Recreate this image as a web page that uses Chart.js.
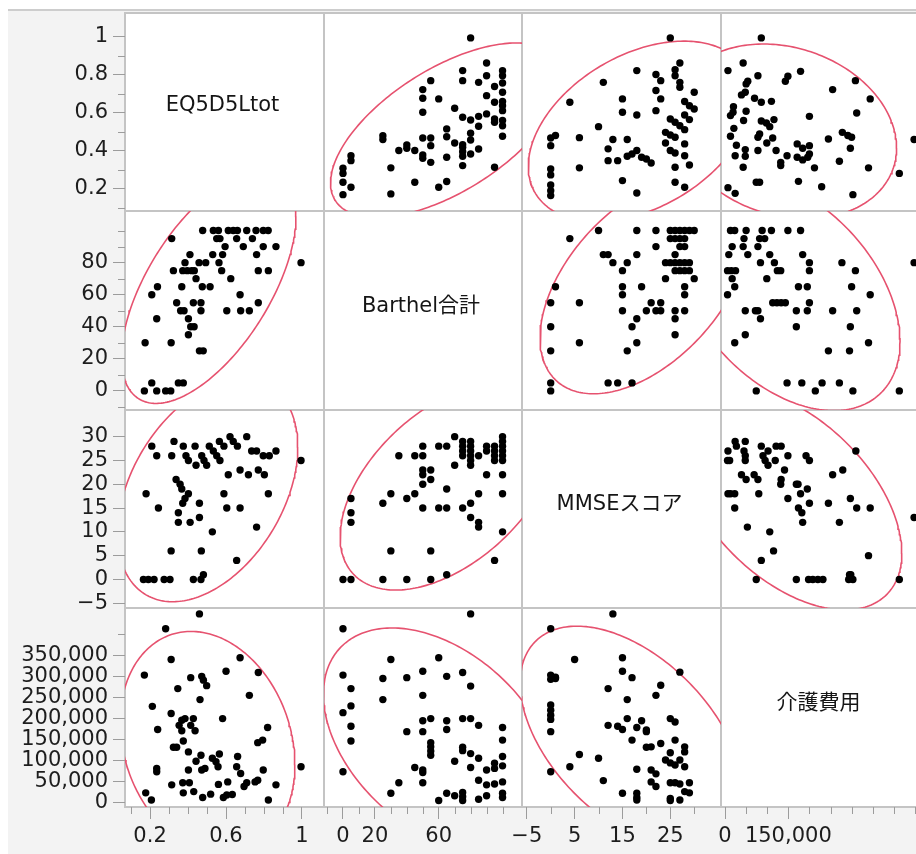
<!DOCTYPE html>
<html>
<head>
<meta charset="utf-8">
<script src="https://cdn.jsdelivr.net/npm/chart.js@4.4.1/dist/chart.umd.min.js"></script>
<style>
  body { margin: 0; width: 916px; height: 854px; overflow: hidden; background: #fff; position: relative; }
  #frame { position: absolute; left: 8px; top: 9px; width: 940px; height: 860px; background: #f3f3f3; border-top: 2px solid #cdcdcd; }
  .line { position: absolute; background: #c4c4c4; }
  .cell { position: absolute; background: #fff; }
  canvas { position: absolute; }
  .diag { position: absolute; font-family: "DejaVu Sans", "Noto Sans CJK JP", sans-serif; font-size: 21px; color: #151515; white-space: nowrap; transform: translate(-50%, -50%); }
</style>
</head>
<body>
<div id="frame"></div>
<div id="root"></div>
<script>
// 変数名（対角セル）
const varNames = ['EQ5D5Ltot', 'Barthel合計', 'MMSEスコア', '介護費用'];

// 軸の目盛り
const eqTicks = [0.1, 0.2, 0.3, 0.4, 0.5, 0.6, 0.7, 0.8, 0.9, 1.0];
const eqLabelsY = [0.2, 0.4, 0.6, 0.8, 1.0];
const eqLabelsX = [0.2, 0.6, 1.0];
const barthelTicks = [-10, 0, 10, 20, 30, 40, 50, 60, 70, 80, 90, 100];
const barthelLabelsY = [0, 20, 40, 60, 80];
const barthelLabelsX = [0, 20, 60];
const mmseTicks = [-5, 0, 5, 10, 15, 20, 25, 30];
const mmseLabelsY = [-5, 0, 5, 10, 15, 20, 25, 30];
const mmseLabelsX = [-5, 5, 15, 25];
const costTicksY = [0, 50000, 100000, 150000, 200000, 250000, 300000, 350000, 400000];
const costLabelsY = [0, 50000, 100000, 150000, 200000, 250000, 300000, 350000];
const costTicksX = [0, 50000, 100000, 150000, 200000, 250000, 300000, 350000, 400000, 450000];
const costLabelsX = [0, 150000];

// 軸の範囲
const eqRangeX = [0.068, 1.116], eqRangeY = [0.084, 1.126];
const barthelRange = [-11.9, 112.2];
const mmseRange = [-6, 35.6];
const costRange = [-9500, 462000];

// 各ペアの観測値 [x変数, y変数]
const eqBarthel = [
  [0.477,100],[0.533,100],[0.56,100],[0.612,100],[0.638,100],[0.66,100],[0.709,100],[0.758,100],[0.796,100],[0.822,100],
  [0.314,95],[0.551,95],[0.568,95],[0.656,95],[0.739,95],
  [0.595,90],[0.691,90],[0.796,90],[0.863,90],
  [0.41,85],[0.53,85],[0.582,85],[0.761,85],
  [0.384,80],[0.458,80],[0.493,80],[0.563,80],[0.995,80],
  [0.323,75],[0.372,75],[0.396,75],[0.419,75],[0.433,75],[0.577,75],[0.77,75],[0.823,75],
  [0.442,70],[0.625,70],
  [0.239,65],[0.367,65],[0.475,65],[0.516,65],
  [0.209,60],[0.674,60],
  [0.34,55],[0.428,55],[0.468,55],[0.77,55],
  [0.361,50],[0.379,50],[0.468,50],[0.604,50],[0.677,50],[0.723,50],
  [0.235,45],[0.402,45],
  [0.414,40],[0.432,40],
  [0.402,35],
  [0.174,30],[0.311,30],
  [0.46,25],[0.48,25],
  [0.209,5],[0.349,5],[0.375,5],
  [0.17,0],[0.235,0],[0.282,0],[0.309,0]
];
const eqMmse = [
  [0.209,28],[0.235,26],[0.314,26],[0.326,29],[0.375,28],[0.389,26],[0.402,25],[0.437,28],[0.442,24],[0.472,26],
  [0.484,25],[0.498,24],[0.512,28],[0.533,27],[0.551,26],[0.568,25],[0.565,29],[0.589,28],[0.621,30],[0.638,29],
  [0.66,28],[0.709,30],[0.735,27],[0.761,27],[0.796,26],[0.828,26],[0.863,27],[0.995,25],
  [0.612,22],[0.674,23],[0.718,22],[0.77,23],[0.802,22],
  [0.337,21],[0.358,20],[0.367,19],[0.179,18],[0.589,18],[0.823,18],[0.402,18],[0.384,17],[0.372,16],[0.46,16],
  [0.244,15],[0.604,15],[0.674,15],[0.349,14],[0.46,13],[0.349,12],[0.411,12],[0.761,11],[0.528,10],
  [0.311,6],[0.47,6],[0.656,4],
  [0.165,0],[0.191,0],[0.221,0],[0.274,0],[0.305,0],[0.428,0],[0.468,0],[0.481,1]
];
const eqCost = [
  [0.46,448000],[0.282,413000],[0.17,303000],[0.311,340000],[0.212,229000],[0.414,297000],[0.472,300000],[0.481,291000],
  [0.498,278000],[0.346,271000],[0.463,245000],[0.6,312000],[0.674,344000],[0.77,309000],[0.723,255000],[0.311,212000],
  [0.24,174000],[0.353,184000],[0.367,196000],[0.384,200000],[0.367,171000],[0.414,184000],[0.428,200000],[0.437,171000],
  [0.582,200000],[0.375,147000],[0.323,132000],[0.34,132000],[0.402,121000],[0.468,113000],[0.565,116000],[0.528,106000],
  [0.547,98000],[0.442,99000],[0.558,86000],[0.661,110000],[0.402,78000],[0.472,78000],[0.489,82000],[0.235,82000],
  [0.235,74000],[0.656,86000],[0.677,70000],[0.796,78000],[0.767,143000],[0.793,149000],[0.819,179000],[0.995,86000],
  [0.314,43000],[0.372,48000],[0.407,48000],[0.56,44000],[0.609,50000],[0.695,39000],[0.709,48000],[0.753,50000],
  [0.767,54000],[0.863,43000],[0.177,24000],[0.207,7000],[0.375,24000],[0.43,27000],[0.477,13000],[0.519,21000],
  [0.586,13000],[0.604,19000],[0.633,20000],[0.823,7000]
];
const barthelMmse = [
  [70,30],[75,29],[75,28],[75,27],[75,26],[80,29],[80,28],[80,27],[80,26],[80,25],[90,28],[90,27],[85,26],
  [95,28],[95,27],[95,26],[95,25],[100,30],[100,29],[100,28],[100,27],[100,26],[100,25],[60,28],[65,28],[50,28],
  [45,26],[50,26],[35,26],[70,24],[80,24],[50,23],[55,23],[50,22],[55,21],[50,20],[90,22],[100,22],[65,19],
  [85,18],[100,18],[5,17],[30,18],[25,16],[40,17],[45,18],[50,15],[60,15],[65,15],[75,15],[80,16],[5,14],[5,12],
  [80,13],[85,12],[85,11],[100,10],[30,6],[55,6],[95,4],[0,0],[5,0],[25,0],[40,0],[55,0],[65,1]
];
const barthelCost = [
  [80,448000],[0,413000],[0,303000],[5,271000],[0,214000],[5,230000],[5,182000],[5,147000],[0,74000],[30,340000],
  [25,295000],[25,245000],[40,297000],[50,312000],[50,255000],[60,344000],[65,300000],[75,309000],[80,277000],
  [50,195000],[55,200000],[65,195000],[65,174000],[75,200000],[80,200000],[85,184000],[100,179000],[100,149000],
  [40,169000],[50,169000],[55,143000],[55,133000],[55,123000],[55,113000],[75,132000],[75,124000],[80,117000],
  [85,106000],[70,99000],[80,84000],[90,78000],[95,94000],[95,82000],[100,110000],[100,88000],[45,84000],[50,78000],
  [50,72000],[50,48000],[35,48000],[30,23000],[85,54000],[90,43000],[95,45000],[100,50000],[60,6000],[65,23000],
  [70,17000],[75,25000],[75,15000],[75,6000],[85,9000],[90,17000],[100,23000],[100,13000]
];
const mmseCost = [
  [13,448000],[0,413000],[0,303000],[1,298000],[1,295000],[0,293000],[5,340000],[0,232000],[0,220000],[0,208000],
  [0,198000],[0,169000],[0,74000],[4,86000],[6,115000],[10,106000],[11,53000],[12,271000],[15,344000],[15,312000],
  [17,297000],[16,245000],[16,200000],[12,184000],[14,182000],[15,174000],[18,179000],[19,195000],[20,169000],
  [17,149000],[20,132000],[18,80000],[15,23000],[18,23000],[18,13000],[18,7000],
  [27,310000],[23,279000],[22,255000],[25,200000],[26,192000],[20,173000],[26,149000],[23,141000],[21,133000],
  [28,133000],[28,121000],[25,119000],[24,102000],[25,95000],[26,90000],[27,102000],[28,86000],[21,78000],
  [22,69000],[25,48000],[26,48000],[27,45000],[29,48000],[21,50000],[22,39000],[28,27000],[29,24000],
  [25,11000],[25,6000],[27,7000]
];

const pairData = {
  '0-1': eqBarthel, '0-2': eqMmse, '0-3': eqCost,
  '1-2': barthelMmse, '1-3': barthelCost, '2-3': mmseCost
};

// 軸設定（変数ごと）
const axes = [
  { rx: eqRangeX, ry: eqRangeY, tx: eqTicks, ty: eqTicks, lx: eqLabelsX, ly: eqLabelsY,
    fmt: v => String(Math.round(v * 10) / 10) },
  { rx: barthelRange, ry: barthelRange, tx: barthelTicks, ty: barthelTicks, lx: barthelLabelsX, ly: barthelLabelsY,
    fmt: v => String(v) },
  { rx: mmseRange, ry: mmseRange, tx: mmseTicks, ty: mmseTicks, lx: mmseLabelsX, ly: mmseLabelsY,
    fmt: v => v < 0 ? '\u2212' + (-v) : String(v) },
  { rx: costRange, ry: costRange, tx: costTicksX, ty: costTicksY, lx: costLabelsX, ly: costLabelsY,
    fmt: v => v.toLocaleString('en-US') }
];

// 95% 密度楕円（平均と共分散から）
function densityEllipse(pts) {
  const n = pts.length;
  let mx = 0, my = 0;
  pts.forEach(p => { mx += p[0]; my += p[1]; });
  mx /= n; my /= n;
  let sxx = 0, syy = 0, sxy = 0;
  pts.forEach(p => {
    const dx = p[0] - mx, dy = p[1] - my;
    sxx += dx * dx; syy += dy * dy; sxy += dx * dy;
  });
  sxx /= (n - 1); syy /= (n - 1); sxy /= (n - 1);
  const k = Math.sqrt(5.991);
  const l11 = Math.sqrt(sxx), l21 = sxy / l11, l22 = Math.sqrt(Math.max(syy - l21 * l21, 0));
  const out = [];
  for (let i = 0; i <= 240; i++) {
    const t = 2 * Math.PI * i / 240;
    const u = Math.cos(t), w = Math.sin(t);
    out.push({ x: mx + k * l11 * u, y: my + k * (l21 * u + l22 * w) });
  }
  return out;
}

// 補助目盛り（短い線）
const minorTicks = {
  id: 'minorTicks',
  afterDraw(chart, args, opts) {
    const ctx = chart.ctx, a = chart.chartArea;
    ctx.save();
    ctx.strokeStyle = '#9c9c9c';
    ctx.lineWidth = 1;
    (opts.y || []).forEach(v => {
      const p = Math.round(chart.scales.y.getPixelForValue(v)) + 0.5;
      ctx.beginPath(); ctx.moveTo(a.left - 7, p); ctx.lineTo(a.left, p); ctx.stroke();
    });
    (opts.x || []).forEach(v => {
      const p = Math.round(chart.scales.x.getPixelForValue(v)) + 0.5;
      ctx.beginPath(); ctx.moveTo(p, a.bottom); ctx.lineTo(p, a.bottom + 7); ctx.stroke();
    });
    ctx.restore();
  }
};

const X = [125, 324, 522, 721, 920];
const Y = [13, 211, 410, 608, 807];
const M = 24;
const root = document.getElementById('root');

function addDiv(cls, l, t, w, h) {
  const d = document.createElement('div');
  d.className = cls;
  d.style.left = l + 'px'; d.style.top = t + 'px';
  d.style.width = w + 'px'; d.style.height = h + 'px';
  root.appendChild(d);
  return d;
}

// パネル背景と区切り線
addDiv('cell', X[0], Y[0], X[4] - X[0], Y[4] - Y[0]);
X.forEach(x => addDiv('line', x - 1, Y[0] - 1, 2, Y[4] - Y[0] + 2));
Y.forEach(y => addDiv('line', X[0] - 1, y - 1, X[4] - X[0] + 2, 2));

function scaleCfg(v, axis, show) {
  const a = axes[v];
  const rng = axis === 'x' ? a.rx : a.ry;
  const labels = axis === 'x' ? a.lx : a.ly;
  return {
    type: 'linear',
    min: rng[0], max: rng[1],
    display: show,
    afterBuildTicks: s => { s.ticks = labels.map(value => ({ value })); },
    afterFit: s => {
      if (!show) return;
      if (axis === 'x') s.height = 47; else s.width = 125;
    },
    grid: { drawOnChartArea: false, drawTicks: true, tickLength: 12, tickColor: '#9c9c9c', tickWidth: 1 },
    border: { display: false },
    ticks: {
      autoSkip: false, maxRotation: 0, minRotation: 0, padding: 5,
      color: '#1d1d1d',
      font: { family: 'DejaVu Sans', size: 21 },
      callback: val => a.fmt(val)
    }
  };
}

for (let r = 0; r < 4; r++) {
  for (let c = 0; c < 4; c++) {
    const showY = c === 0, showX = r === 3;
    const padL = showY ? 0 : M, padB = showX ? 0 : M;
    const axL = showY ? 125 : 0, axB = showX ? 47 : 0;
    const left = X[c] - padL - axL, top = Y[r] - M;
    const w = axL + padL + (X[c + 1] - X[c]) + M;
    const h = M + (Y[r + 1] - Y[r]) + axB + padB;

    const cv = document.createElement('canvas');
    cv.width = w; cv.height = h;
    cv.style.left = left + 'px'; cv.style.top = top + 'px';
    cv.style.width = w + 'px'; cv.style.height = h + 'px';
    root.appendChild(cv);

    const datasets = [];
    if (r !== c) {
      const i = Math.min(r, c), j = Math.max(r, c);
      const src = pairData[i + '-' + j];
      // x は列の変数、y は行の変数
      const flip = c > r;
      const pts = src.map(p => flip ? [p[1], p[0]] : [p[0], p[1]]);
      datasets.push({
        type: 'scatter',
        data: pts.map(p => ({ x: p[0], y: p[1] })),
        pointRadius: 3.7, pointHoverRadius: 3.7,
        backgroundColor: '#000', borderWidth: 0,
        clip: 0
      });
      datasets.push({
        type: 'line',
        data: densityEllipse(pts),
        borderColor: '#e6526f', borderWidth: 1.6,
        pointRadius: 0, fill: false, tension: 0,
        clip: 0
      });
    }

    const minor = {};
    if (showY) minor.y = axes[r].ty.filter(v => !axes[r].ly.includes(v));
    if (showX) minor.x = axes[c].tx.filter(v => !axes[c].lx.includes(v));

    new Chart(cv, {
      type: 'scatter',
      data: { datasets },
      options: {
        responsive: false,
        animation: false,
        events: [],
        layout: { padding: { left: padL, right: M, top: M, bottom: padB } },
        plugins: {
          legend: { display: false },
          tooltip: { enabled: false },
          minorTicks: minor
        },
        scales: {
          x: scaleCfg(c, 'x', showX),
          y: scaleCfg(r, 'y', showY)
        }
      },
      plugins: [minorTicks]
    });

    if (r === c) {
      const d = document.createElement('div');
      d.className = 'diag';
      d.textContent = varNames[r];
      d.style.left = ((X[c] + X[c + 1]) / 2 - 2) + 'px';
      d.style.top = ((Y[r] + Y[r + 1]) / 2 - 8) + 'px';
      root.appendChild(d);
    }
  }
}
</script>
</body>
</html>
